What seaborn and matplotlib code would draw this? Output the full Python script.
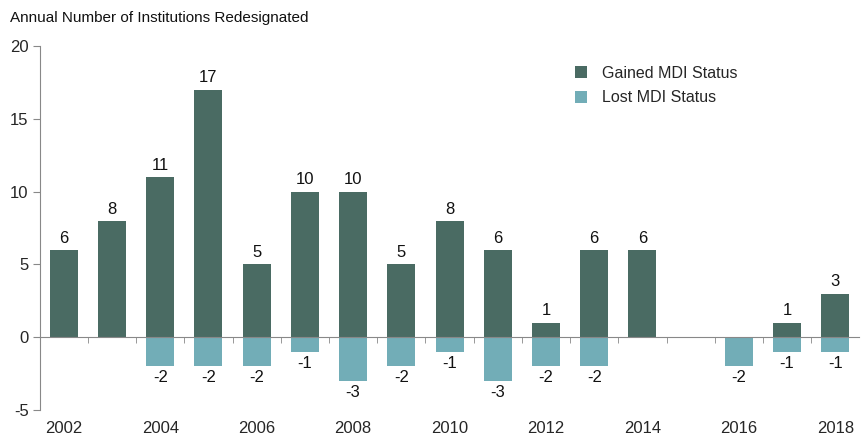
import matplotlib
matplotlib.use("Agg")
import matplotlib.pyplot as plt
import seaborn as sns
import pandas as pd
import numpy as np
from matplotlib.ticker import FixedLocator

years = [str(y) for y in range(2002, 2019)]
gained = [6, 8, 11, 17, 5, 10, 10, 5, 8, 6, 1, 6, 6, 0, 0, 1, 3]
lost = [0, 0, -2, -2, -2, -1, -3, -2, -1, -3, -2, -2, 0, 0, -2, -1, -1]
series_names = ["Gained MDI Status", "Lost MDI Status"]
colors = ["#4a6b63", "#72adb7"]
title = "Annual Number of Institutions Redesignated"

sns.set_style("white")
plt.rcParams['font.family'] = ['Liberation Sans', 'DejaVu Sans']
plt.rcParams['axes.unicode_minus'] = False

df = pd.DataFrame({
    "year": years * 2,
    "value": gained + lost,
    "series": [series_names[0]] * len(years) + [series_names[1]] * len(years),
})

fig = plt.figure(figsize=(8.62, 4.36), dpi=100)
ax = fig.add_axes([0.046, 0.0596, 0.951, 0.835])

sns.barplot(data=df, x="year", y="value", hue="series", order=years,
            hue_order=series_names, palette=colors, dodge=False,
            width=0.58, ax=ax, saturation=1, edgecolor="none")

for cont, vals in zip(ax.containers, [gained, lost]):
    labels = [str(v) if v != 0 else "" for v in vals]
    ax.bar_label(cont, labels=labels, padding=3, fontsize=12, color="#111111")

ax.set_ylim(-5, 20)
ax.set_xlim(-0.5, len(years) - 0.5)
ax.set_yticks([-5, 0, 5, 10, 15, 20])
ax.tick_params(axis="y", direction="out", length=5, color="#888888",
               labelsize=12, pad=3, left=True)
ax.set_xlabel("")
ax.set_ylabel("")

ax.spines["top"].set_visible(False)
ax.spines["right"].set_visible(False)
ax.spines["left"].set_color("#888888")
ax.spines["bottom"].set_color("#888888")
ax.spines["bottom"].set_position(("data", 0))

major = list(range(0, len(years), 2))
ax.set_xticks(major)
ax.set_xticklabels([years[i] for i in major])
ax.xaxis.set_minor_locator(FixedLocator(np.arange(0.5, len(years) - 0.5, 1)))
ax.tick_params(axis="x", which="major", length=0, pad=60, labelsize=12)
ax.tick_params(axis="x", which="minor", length=4, direction="out",
               color="#888888", bottom=True)

leg = ax.legend(loc="upper left", bbox_to_anchor=(0.635, 0.985), frameon=False,
                fontsize=11.5, handlelength=0.8, handleheight=0.8,
                handletextpad=0.9, labelspacing=0.6)

fig.text(0.012, 0.958, title, fontsize=11, color="#111111", va="center")

fig.savefig("out.png", dpi=100)
